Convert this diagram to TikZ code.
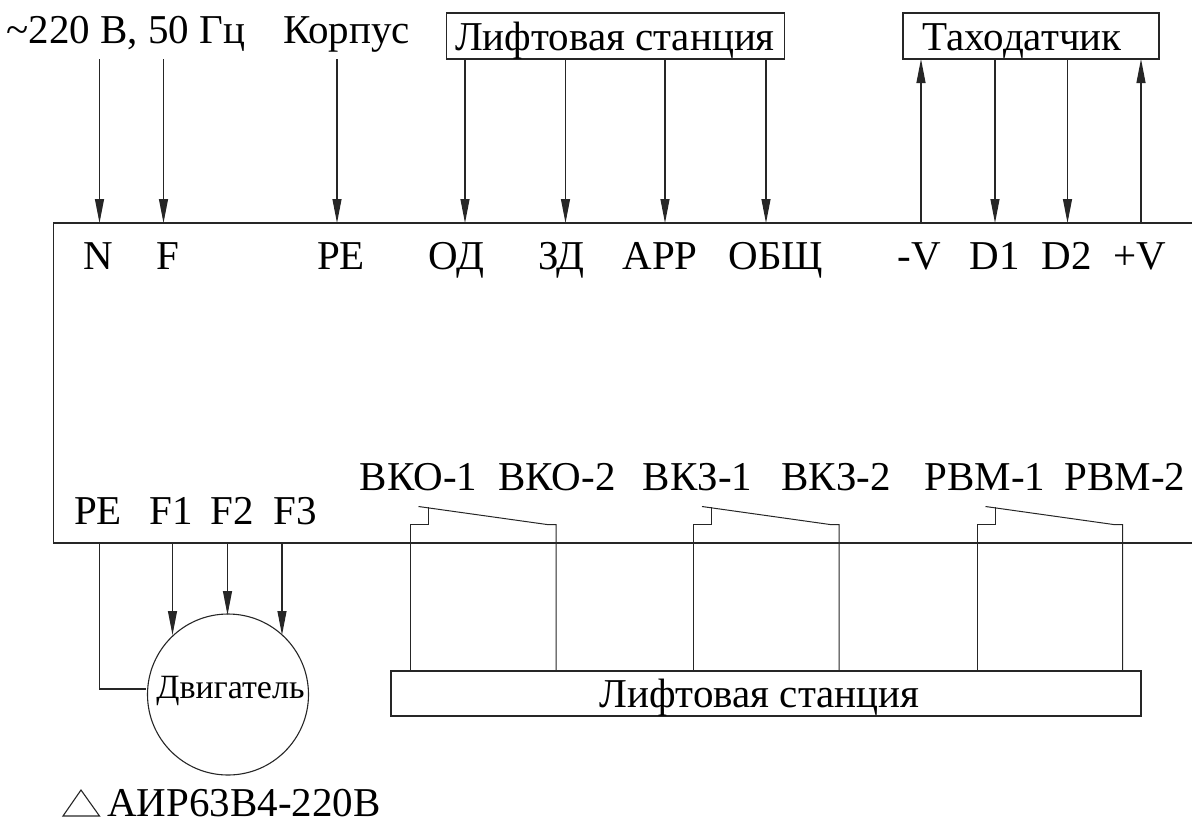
\documentclass[tikz,border=0pt]{standalone}
\usepackage{fontspec}
\setmainfont{Liberation Serif}
\usetikzlibrary{arrows.meta}
\tikzset{
  lbl/.style={inner sep=0pt,outer sep=0pt,anchor=base,font=\fontsize{41}{44}\selectfont},
  smalllbl/.style={inner sep=0pt,outer sep=0pt,anchor=base,font=\fontsize{34}{38}\selectfont},
  wire/.style={line width=1.1pt,black!85},
  thinwire/.style={line width=1pt,black!85},
  arr/.style={wire,-{Triangle[length=24pt,width=9pt]}},
  boxed/.style={draw=black!85,line width=1.1pt,inner sep=0pt,outer sep=0pt,minimum width=#1},
}
\begin{document}
\begin{tikzpicture}[x=1pt,y=-1pt]
\useasboundingbox (0,0) rectangle (1192,820);
% main body (open at the right edge)
\draw[wire] (1192,223) -- (53.5,223) -- (53.5,543) -- (1192,543);
\foreach \n/\x in {n/99.5,f/163.5,pe/337,od/465,zd/565.5,app/665,obsh/766,mv/921,dd/995,de/1067.5,pv/1141}{
  \coordinate (t\n) at (\x,223);
  \coordinate (h\n) at (\x,59);
}
\foreach \n/\x in {bpe/99.5,bf/172.5,bg/227.5,bh/282}{\coordinate (\n) at (\x,543);}
% top labels
\node[lbl] (lmain) at (126,43) {\textasciitilde 220 В, 50 Гц};
\node[lbl] (lcase) at (346.5,43) {Корпус};
\node[boxed=338pt,minimum height=46pt] (lift) at (615.6,36) {};
\node[lbl] (lliftt) at (615,50) {Лифтовая станция};
\node[boxed=256pt,minimum height=46pt] (taxo) at (1031,36) {};
\node[lbl] (ltaxo) at (1022,50) {Таходатчик};
% port labels
\node[lbl] (a1) at (98.5,269.5) {N};
\node[lbl] (a2) at (168,269.5) {F};
\node[lbl] (a3) at (341,269.5) {PE};
\node[lbl] (a4) at (456.5,269.5) {ОД};
\node[lbl] (a5) at (561.5,269.5) {ЗД};
\node[lbl] (a6) at (660,269.5) {АРР};
\node[lbl] (a7) at (776,269.5) {ОБЩ};
\node[lbl] (a8) at (919,269.5) {-V};
\node[lbl] (a9) at (995,269.5) {D1};
\node[lbl] (a10) at (1066.5,269.5) {D2};
\node[lbl] (a11) at (1140,269.5) {+V};
\node[lbl] (b1) at (98,524) {PE};
\node[lbl] (b2) at (171.5,524) {F1};
\node[lbl] (b3) at (232,524) {F2};
\node[lbl] (b4) at (295,524) {F3};
\node[lbl] (c1) at (418.5,490) {ВКО-1};
\node[lbl] (c2) at (557,490) {ВКО-2};
\node[lbl] (c3) at (697.5,490) {ВКЗ-1};
\node[lbl] (c4) at (836,490) {ВКЗ-2};
\node[lbl] (c5) at (985,490) {РВМ-1};
\node[lbl] (c6) at (1125,490) {РВМ-2};
% top wires
\foreach \n in {n,f,pe,od,zd,app,obsh,dd,de}{\draw[arr] (h\n) -- (t\n);}
\draw[arr] (tmv) -- (hmv);
\draw[arr] (tpv) -- (hpv);
% motor
\node[draw=black!85,line width=1.1pt,circle,minimum size=161pt,inner sep=0pt,outer sep=0pt] (motor) at (228,694.5) {};
\node[smalllbl] (lmotor) at (230.5,698) {Двигатель};
\coordinate (mpe) at (146,689);
\draw[wire] (bpe) |- (mpe);
\coordinate (mf) at (172.5,635); \coordinate (mg) at (227.5,615); \coordinate (mh) at (282,635);
\draw[arr] (bf) -- (mf);
\draw[arr] (bg) -- (mg);
\draw[arr] (bh) -- (mh);
% lower station
\node[boxed=750pt,minimum height=45pt] (st) at (766,693.5) {};
\node[lbl] (lst) at (759.5,707.5) {Лифтовая станция};
% contacts
\foreach \l/\r in {410/556,693.5/839,977/1122.5}{
  \coordinate (p) at (\l,671); \coordinate (q) at (\r,671);
  \draw[thinwire] (p) -- (\l,524.5) -- (\l+18,524.5) -- (\l+18,506.5);
  \draw[thinwire] (\l+8.5,506.5) -- (\r-9,524.5) -- (\r,524.5) -- (q);
}
% rating
\coordinate (t1) at (63,816); \coordinate (t2) at (81,790); \coordinate (t3) at (99.5,816);
\draw[wire] (t1) -- (t2) -- (t3) -- cycle;
\node[lbl] (lrate) at (244,816) {АИР63В4-220В};
\end{tikzpicture}
\end{document}
